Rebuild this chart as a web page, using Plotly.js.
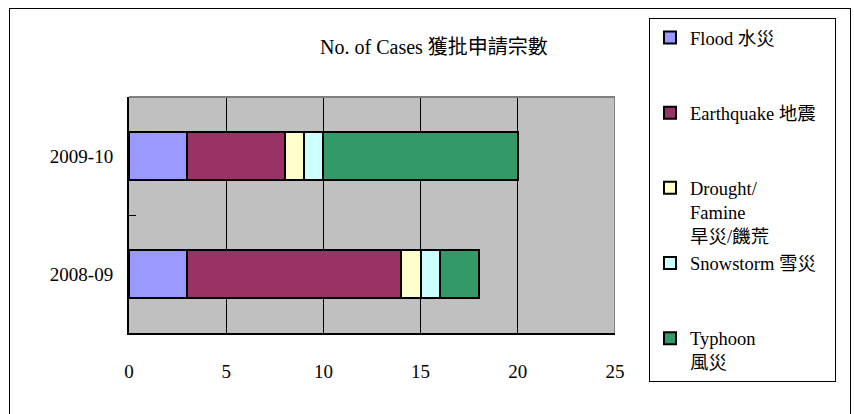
<!DOCTYPE html>
<html>
<head>
<meta charset="utf-8">
<script src="https://cdn.plot.ly/plotly-3.0.1.min.js"></script>
<style>html,body{margin:0;padding:0;background:#fff;}#chart{width:854px;height:414px;}</style>
</head>
<body>
<div id="chart"></div>
<script>
const years = ['2008-09', '2009-10'];
const seriesNames = ['Flood 水災', 'Earthquake 地震', 'Drought/<br>Famine<br>旱災/饑荒', 'Snowstorm 雪災', 'Typhoon<br>風災'];
const flood = [3, 3];
const earthquake = [11, 5];
const drought = [1, 1];
const snowstorm = [1, 1];
const typhoon = [2, 10];
const colors = ['#9999FF', '#993366', '#FFFFCC', '#CCFFFF', '#339966'];
const xTicks = [0, 5, 10, 15, 20, 25];
const titleText = 'No. of Cases 獲批申請宗數';

const FONT = 'Liberation Serif, "Noto Sans CJK TC", serif';
const W = 854, H = 414;
const L = 129, R = 615, T = 97, B = 333;
const px = x => (x - L) / (R - L);
const py = y => (B - y) / (B - T);

// pad legend labels so each entry occupies 3 lines (last one 2); widen the box a little
const legendLabels = seriesNames.map((n, i) => {
  const lines = n.split('<br>').length;
  const want = i === seriesNames.length - 1 ? lines : 3;
  let s = n;
  if (i === 1) s += '&nbsp;&nbsp;&nbsp;';
  for (let k = lines; k < want; k++) s += '<br>&nbsp;';
  return s;
});

const values = [flood, earthquake, drought, snowstorm, typhoon];
const data = values.map((v, i) => ({
  type: 'bar',
  orientation: 'h',
  y: years,
  x: v,
  name: legendLabels[i],
  width: 0.4,
  marker: {color: colors[i], line: {color: '#000', width: 2}},
  hoverinfo: 'x+y'
}));

const layout = {
  width: W, height: H,
  margin: {l: L, r: W - R, t: T, b: H - B, pad: 0},
  barmode: 'stack',
  paper_bgcolor: '#fff',
  plot_bgcolor: '#C0C0C0',
  font: {family: FONT, size: 19, color: '#000'},
  title: {text: titleText, x: 434 / W, xanchor: 'center', y: 1 - 47 / H, yanchor: 'middle', yref: 'container', font: {family: FONT, size: 20, color: '#000'}},
  xaxis: {
    range: [0, 25], tickvals: xTicks, ticktext: xTicks.map(String),
    showgrid: true, gridcolor: '#000', gridwidth: 1,
    showline: true, linecolor: '#000', linewidth: 2,
    ticks: 'inside', ticklen: 5, tickcolor: '#000',
    ticklabelstandoff: 20, zeroline: false, fixedrange: true,
    tickfont: {family: FONT, size: 19}
  },
  yaxis: {
    type: 'category', categoryorder: 'array', categoryarray: years,
    showgrid: false, showline: true, linecolor: '#000', linewidth: 2,
    ticks: 'inside', ticklen: 7, tickcolor: '#000', tickson: 'boundaries',
    ticklabelstandoff: 10, fixedrange: true,
    tickfont: {family: FONT, size: 19}
  },
  showlegend: true,
  legend: {
    x: px(649), y: py(18), xanchor: 'left', yanchor: 'top',
    bgcolor: '#fff', bordercolor: '#000', borderwidth: 1,
    traceorder: 'normal', valign: 'top', maxheight: 405,
    font: {family: FONT, size: 18.5, color: '#000'},
    itemclick: false, itemdoubleclick: false
  },
  shapes: [
    {type: 'line', xref: 'x', yref: 'paper', x0: 25, x1: 25, y0: 0, y1: 1, line: {color: '#808080', width: 2}, layer: 'above'},
    {type: 'line', xref: 'paper', yref: 'paper', x0: 0, x1: 1, y0: 1, y1: 1, line: {color: '#808080', width: 2}, layer: 'above'},
    {type: 'line', xref: 'paper', yref: 'paper', x0: px(9), x1: px(851), y0: py(8.5), y1: py(8.5), line: {color: '#000', width: 1}},
    {type: 'line', xref: 'paper', yref: 'paper', x0: px(9.5), x1: px(9.5), y0: py(8), y1: py(414), line: {color: '#000', width: 1}},
    {type: 'line', xref: 'paper', yref: 'paper', x0: px(850.5), x1: px(850.5), y0: py(8), y1: py(414), line: {color: '#000', width: 1}}
  ]
};

Plotly.newPlot('chart', data, layout, {displayModeBar: false, staticPlot: true});
</script>
</body>
</html>
